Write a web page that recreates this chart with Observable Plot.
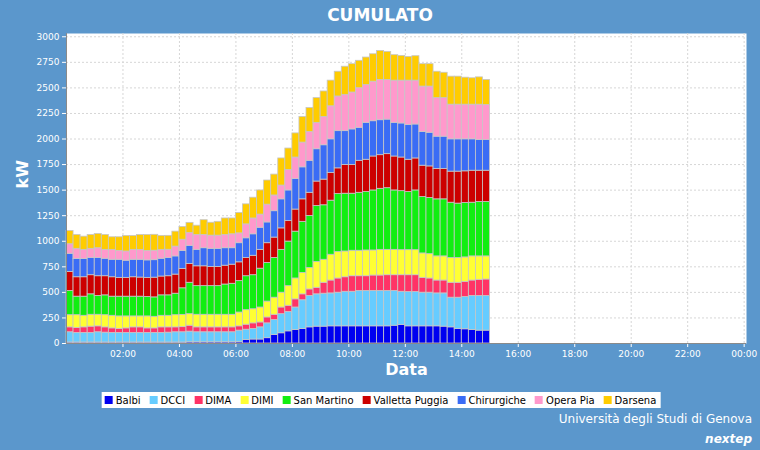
<!DOCTYPE html>
<html>
<head>
<meta charset="utf-8">
<script src="https://cdn.jsdelivr.net/npm/d3@7"></script>
<script src="https://cdn.jsdelivr.net/npm/@observablehq/plot@0.6"></script>
<style>
  html, body { margin: 0; padding: 0; }
  body { width: 760px; height: 450px; overflow: hidden; background: #5b97cc; font-family: "DejaVu Sans", sans-serif; position: relative; }
  #title { height: 28px; line-height: 30px; text-align: center; color: #fff; font-weight: bold; font-size: 17px; }
  #chart svg { display: block; overflow: visible; }
  #legend { position: absolute; left: 381px; transform: translateX(-50%); top: 392px; height: 16px; padding: 0 4px 0 3px; background: #fff; display: flex; align-items: center; font-size: 10px; color: #000; white-space: nowrap; }
  .item { display: flex; align-items: center; margin-right: 9px; white-space: nowrap; }
  .item:last-child { margin-right: 0; }
  .sw { width: 8px; height: 8px; margin-right: 3px; }
  #uni { position: absolute; right: 8px; top: 412px; color: #fff; font-size: 12px; font-weight: normal; }
  #nextep { position: absolute; right: 8px; top: 432px; color: #fff; font-size: 12px; font-weight: bold; font-style: italic; }
</style>
</head>
<body>
<div id="title">CUMULATO</div>
<div id="chart"></div>
<div id="legend"></div>
<div id="uni">Università degli Studi di Genova</div>
<div id="nextep">nextep</div>
<script>
// 15-minute slots starting at 00:00 (60 slots, 00:00 .. 14:45)
const slotMinutes = 15;

const seriesNames = ["Balbi", "DCCI", "DIMA", "DIMI", "San Martino", "Valletta Puggia", "Chirurgiche", "Opera Pia", "Darsena"];
const seriesColors = ["#0000f0", "#66ccff", "#ff3366", "#ffff33", "#11ee11", "#cc0000", "#3a6cf5", "#ff99cc", "#ffcc00"];

const balbi = [10,10,10,10,10,10,10,10,10,10,10,10,10,10,10,10,10,12,12,12,12,12,12,12,13,35,39,39,52,84,100,119,132,142,158,165,165,168,168,168,168,168,168,168,168,168,174,181,168,168,168,168,168,165,158,142,139,132,126,126];
const dcci = [100,93,93,93,100,96,93,93,93,93,93,93,93,93,96,100,100,104,98,98,98,98,98,98,113,100,103,119,145,145,187,190,220,281,307,316,322,322,329,338,338,345,345,345,345,345,339,325,335,335,329,329,322,325,290,306,316,333,339,339];
const dima = [48,49,55,62,58,52,45,39,45,55,55,45,45,55,52,48,50,58,48,48,48,48,48,48,42,49,55,48,58,52,65,60,80,58,64,64,107,126,139,142,152,145,145,152,152,155,155,162,165,165,145,139,126,126,146,146,148,151,158,161];
const dimi = [119,125,113,116,113,119,123,123,117,107,107,117,113,113,113,119,120,113,123,123,123,123,123,123,135,142,138,146,155,167,145,192,204,209,210,252,225,252,258,252,249,249,252,245,251,248,248,245,245,245,239,238,236,236,242,242,239,236,229,226];
const sanMartino = [236,181,187,200,184,194,187,193,193,193,193,190,190,200,200,210,260,307,280,280,280,280,296,303,307,332,333,380,377,388,419,436,458,500,509,548,533,529,567,565,558,567,571,587,597,603,581,577,568,584,551,549,558,558,541,532,532,525,532,532];
const valletta = [187,190,190,187,193,187,190,184,184,190,187,187,193,184,187,187,190,183,194,194,187,187,184,187,184,178,190,184,194,200,210,200,216,220,226,239,251,271,252,280,280,313,316,332,329,333,332,329,316,313,307,309,297,297,304,313,310,313,306,306];
const chirurgiche = [177,178,178,168,178,171,171,177,168,171,174,171,171,174,178,178,175,178,161,177,178,178,171,161,187,193,210,216,203,258,284,300,300,313,313,316,336,329,364,332,349,323,361,345,342,338,329,333,339,332,329,329,316,316,316,316,313,307,300,300];
const operaPia = [94,100,90,90,96,87,97,87,90,97,97,93,93,87,81,96,110,125,145,129,129,129,129,136,96,136,155,129,174,154,135,200,209,242,281,258,277,323,339,355,361,387,371,387,394,388,413,419,435,429,445,452,377,377,339,339,339,339,346,342];
const darsena = [129,135,129,135,139,145,123,133,152,136,145,155,155,136,136,146,125,100,91,145,126,135,162,155,200,196,203,236,236,204,265,210,236,251,235,242,249,251,242,275,277,268,268,268,283,274,249,242,232,239,219,219,258,248,274,274,264,258,267,246];

const seriesValues = [balbi, dcci, dima, dimi, sanMartino, valletta, chirurgiche, operaPia, darsena];

const yTicks = [0, 250, 500, 750, 1000, 1250, 1500, 1750, 2000, 2250, 2500, 2750, 3000];
const xTickHours = [2, 4, 6, 8, 10, 12, 14, 16, 18, 20, 22, 24];

const MIN = 60000;
const base = Date.UTC(2024, 0, 1);
const rows = [];
for (let i = 0; i < balbi.length; i++) {
  const t0 = new Date(base + i * slotMinutes * MIN);
  const t1 = new Date(base + (i + 1) * slotMinutes * MIN);
  seriesNames.forEach((s, k) => rows.push({t0, t1, series: s, kw: seriesValues[k][i]}));
}
const xTickDates = xTickHours.map(h => new Date(base + h * 60 * MIN));
const xStart = new Date(base);
const xEnd = new Date(base + (24 * 60 + 5) * MIN);

const chart = Plot.plot({
  width: 760,
  height: 355,
  marginLeft: 66,
  marginRight: 14,
  marginTop: 5,
  marginBottom: 40,
  style: {background: "transparent", color: "#fff", fontSize: "9px", fontFamily: "DejaVu Sans, sans-serif", overflow: "visible"},
  x: {type: "utc", domain: [xStart, xEnd], ticks: xTickDates, tickFormat: d3.utcFormat("%H:%M"), tickSize: 4, tickPadding: 3, label: null},
  y: {domain: [0, 3032], ticks: yTicks, tickFormat: d3.format("d"), tickSize: 4, tickPadding: 3, label: null},
  color: {domain: seriesNames, range: seriesColors},
  marks: [
    Plot.frame({fill: "#fff", stroke: "none"}),
    Plot.ruleY(yTicks, {y: d => d, stroke: "#d6d6d6", strokeDasharray: "2,2"}),
    Plot.ruleX(xTickDates, {x: d => d, stroke: "#d6d6d6", strokeDasharray: "2,2"}),
    Plot.rectY(rows, Plot.stackY({x1: "t0", x2: "t1", y: "kw", fill: "series", stroke: "#c6c6c6", strokeWidth: 0.8})),
    Plot.ruleY([0], {y: d => d, stroke: "#8a8a8a"}),
    Plot.ruleX([xStart], {x: d => d, stroke: "#8a8a8a"}),
    Plot.text(["Data"], {text: d => d, frameAnchor: "bottom", dy: 31, fill: "#fff", fontSize: 16, fontWeight: "bold"}),
    Plot.text(["kW"], {text: d => d, frameAnchor: "left", dx: -44, rotate: -90, fill: "#fff", fontSize: 16, fontWeight: "bold"})
  ]
});
document.getElementById("chart").appendChild(chart);

const legend = document.getElementById("legend");
seriesNames.forEach((s, k) => {
  const item = document.createElement("div");
  item.className = "item";
  const sw = document.createElement("span");
  sw.className = "sw";
  sw.style.background = seriesColors[k];
  const lab = document.createElement("span");
  lab.textContent = s;
  item.appendChild(sw);
  item.appendChild(lab);
  legend.appendChild(item);
});
</script>
</body>
</html>
